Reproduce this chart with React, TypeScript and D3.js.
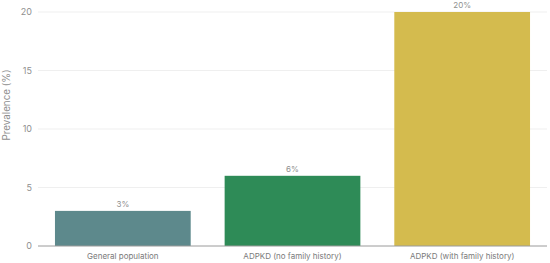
import React from 'react';
import * as d3 from 'd3';

const categories = ['General population', 'ADPKD (no family history)', 'ADPKD (with family history)'];
const prevalence = [3, 6, 20];
const barColors = ['#5d898c', '#2e8b57', '#d4bb4e'];
const yTicks = [0, 5, 10, 15, 20];

const width = 550;
const height = 263;
const margin = { top: 12, right: 3, bottom: 17, left: 38 };

const App = () => {
  const x = d3.scaleBand<string>()
    .domain(categories)
    .range([margin.left, width - margin.right])
    .paddingInner(0.2)
    .paddingOuter(0.1);

  const y = d3.scaleLinear()
    .domain([0, 20])
    .range([height - margin.bottom, margin.top]);

  const font = 'Inter, "Noto Sans", sans-serif';

  return (
    <svg
      width={width}
      height={height}
      style={{ position: 'absolute', left: 0, top: 0, fontFamily: font }}
    >
      {/* grid + y ticks */}
      {yTicks.map(t => (
        <g key={t}>
          {t > 0 && (
            <line x1={margin.left} x2={width - margin.right} y1={y(t)} y2={y(t)} stroke="#efefef" strokeWidth={1} />
          )}
          <text x={margin.left - 6} y={y(t)} dy="0.35em" textAnchor="end" fontSize={9} fill="#8f8f8f">
            {t}
          </text>
        </g>
      ))}

      <text
        transform={`translate(10, ${105}) rotate(-90)`}
        textAnchor="middle"
        fontSize={9.8}
        fill="#8f8f8f"
      >
        Prevalence (%)
      </text>

      {/* bars */}
      {categories.map((c, i) => (
        <g key={c}>
          <rect
            x={x(c)}
            y={y(prevalence[i])}
            width={x.bandwidth()}
            height={y(0) - y(prevalence[i])}
            fill={barColors[i]}
          />
          <text
            x={(x(c) ?? 0) + x.bandwidth() / 2}
            y={y(prevalence[i]) - 4}
            textAnchor="middle"
            fontSize={8}
            fill="#8f8f8f"
          >
            {prevalence[i]}%
          </text>
          <text
            x={(x(c) ?? 0) + x.bandwidth() / 2}
            y={y(0) + 13}
            textAnchor="middle"
            fontSize={8}
            fill="#7a7a7a"
          >
            {c}
          </text>
        </g>
      ))}

      <line x1={margin.left} x2={width - margin.right} y1={y(0)} y2={y(0)} stroke="#9a9a9a" strokeWidth={1} />
    </svg>
  );
};

export default App;
